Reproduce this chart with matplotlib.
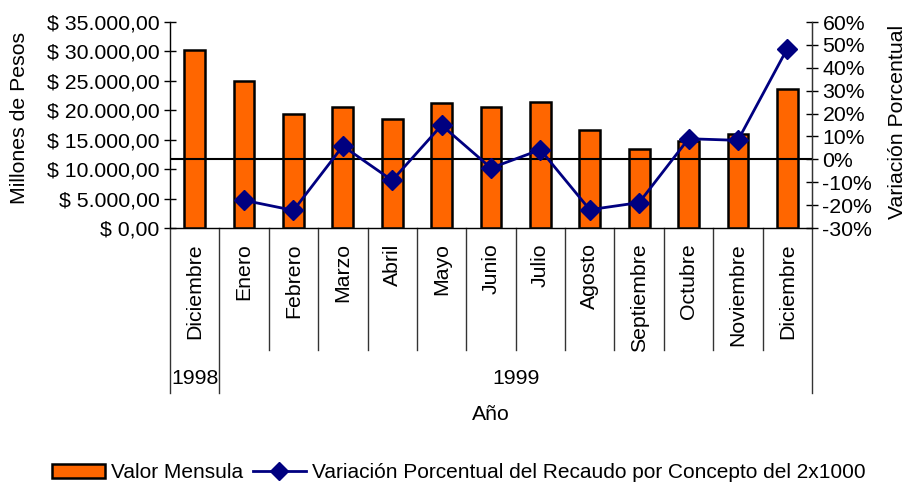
import matplotlib
matplotlib.use("Agg")
import matplotlib.pyplot as plt
import matplotlib.transforms as mtransforms
from matplotlib.lines import Line2D
from matplotlib.patches import Patch

plt.rcParams['font.family'] = ['Liberation Sans', 'DejaVu Sans']

months = ["Diciembre", "Enero", "Febrero", "Marzo", "Abril", "Mayo", "Junio",
          "Julio", "Agosto", "Septiembre", "Octubre", "Noviembre", "Diciembre"]
years = ["1998", "1999"]
valor_mensual = [30300, 24900, 19400, 20500, 18600, 21300, 20500,
                 21400, 16600, 13500, 14700, 16000, 23600]
variacion = [None, -17.9, -22.3, 5.8, -9.2, 14.9, -3.8,
             4.2, -22.0, -18.9, 9.0, 8.3, 48.4]

left_ticks = list(range(0, 35001, 5000))
right_ticks = list(range(-30, 61, 10))

FS = 15.3
W, H = 912, 482
fig = plt.figure(figsize=(W / 100, H / 100), dpi=100)
ax = fig.add_axes([170 / W, 1 - 228 / H, 642 / W, 206 / H])

n = len(months)
xs = list(range(n))
ax.bar(xs, valor_mensual, width=0.42, color="#FF6600", edgecolor="black",
       linewidth=1.8, zorder=2)
ax.set_xlim(-0.5, n - 0.5)
ax.set_ylim(0, 35000)
ax.set_yticks(left_ticks)
ax.set_yticklabels(["$ " + f"{v:,.2f}".replace(",", "X").replace(".", ",").replace("X", ".")
                    for v in left_ticks], fontsize=FS)
ax.tick_params(axis="y", direction="inout", length=9, width=1, pad=3)
ax.set_xticks(xs)
ax.set_xticklabels(months, rotation=90, fontsize=FS, va="top")
ax.tick_params(axis="x", length=0, pad=11)
ax.spines["top"].set_visible(False)
for s in ["left", "right", "bottom"]:
    ax.spines[s].set_color("#333333")
    ax.spines[s].set_linewidth(1.0)

ax2 = ax.twinx()
ax2.set_ylim(-30, 60)
ax2.set_yticks(right_ticks)
ax2.set_yticklabels([f"{v}%" for v in right_ticks], fontsize=FS)
ax2.tick_params(axis="y", direction="inout", length=9, width=1, pad=3)
ax2.spines["top"].set_visible(False)
ax2.spines["right"].set_color("#333333")
ax2.axhline(0, color="black", linewidth=1.5, zorder=1)
lx = [x for x, v in zip(xs, variacion) if v is not None]
ly = [v for v in variacion if v is not None]
ax2.plot(lx, ly, color="#000080", linewidth=2, marker="D", markersize=10,
         markerfacecolor="#000080", markeredgecolor="#000080", zorder=3)

# axis titles
fig.text(20 / W, 1 - 118 / H, "Millones de Pesos", rotation=90, ha="center",
         va="center", fontsize=FS)
fig.text(898 / W, 1 - 122 / H, "Variación Porcentual", rotation=90, ha="center",
         va="center", fontsize=FS)

# category separators below the axis
trans = mtransforms.blended_transform_factory(ax.transData, fig.transFigure)
for b in [i - 0.5 for i in range(n + 1)]:
    low = 393 if b in (-0.5, 0.5, n - 0.5) else 350
    ax.add_line(Line2D([b, b], [1 - 228 / H, 1 - low / H], transform=trans,
                       color="#333333", linewidth=1.0, clip_on=False))

ax.text(0, 1 - 379 / H, years[0], transform=trans, ha="center", va="center", fontsize=FS)
ax.text((1 + n - 1) / 2, 1 - 379 / H, years[1], transform=trans, ha="center",
        va="center", fontsize=FS)
fig.text((170 + 812) / 2 / W, 1 - 414 / H, "Año", ha="center", va="center", fontsize=FS)

handles = [Patch(facecolor="#FF6600", edgecolor="black", linewidth=1.8),
           Line2D([], [], color="#000080", linewidth=2, marker="D", markersize=9)]
fig.legend(handles, ["Valor Mensula", "Variación Porcentual del Recaudo por Concepto del 2x1000"],
           loc="center", bbox_to_anchor=(459 / W, 1 - 473 / H), ncol=2, frameon=False,
           fontsize=15.0, handlelength=2.55, handleheight=0.65, handletextpad=0.3,
           columnspacing=0.45, borderpad=0, borderaxespad=0)

fig.savefig("out.png", dpi=100)
